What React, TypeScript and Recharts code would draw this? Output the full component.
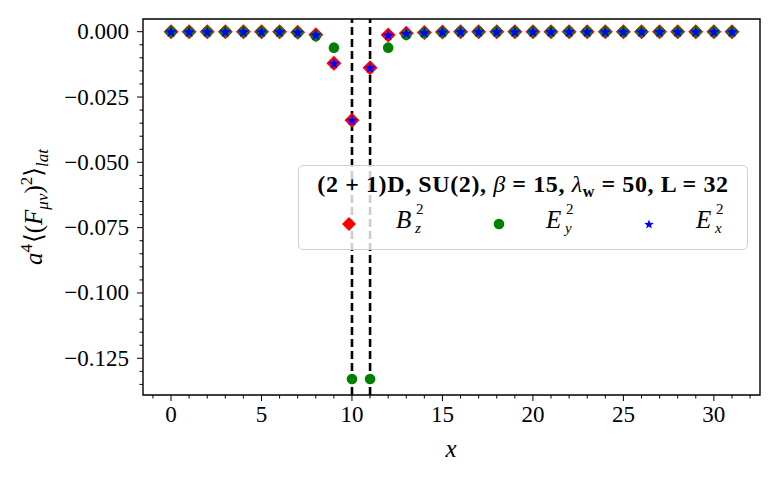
import React from 'react';
import { ScatterChart, Scatter, XAxis, YAxis, ReferenceLine, ReferenceArea } from 'recharts';

const positions = [0, 1, 2, 3, 4, 5, 6, 7, 8, 9, 10, 11, 12, 13, 14, 15, 16, 17, 18, 19, 20, 21, 22, 23, 24, 25, 26, 27, 28, 29, 30, 31];
const bz2 = [0, 0, 0, 0, 0, 0, 0, -0.0002, -0.0012, -0.0121, -0.0339, -0.0138, -0.0013, -0.0006, -0.0003, -0.0001, 0, 0, 0, 0, 0, 0, 0, 0, 0, 0, 0, 0, 0, 0, 0, 0];
const ey2 = [0, 0, 0, 0, 0, 0, 0, -0.0003, -0.0016, -0.0061, -0.1329, -0.1329, -0.0061, -0.0012, -0.0005, -0.0002, 0, 0, 0, 0, 0, 0, 0, 0, 0, 0, 0, 0, 0, 0, 0, 0];
const ex2 = [0, 0, 0, 0, 0, 0, 0, -0.0002, -0.0012, -0.0121, -0.0339, -0.0138, -0.0013, -0.0006, -0.0003, -0.0001, 0, 0, 0, 0, 0, 0, 0, 0, 0, 0, 0, 0, 0, 0, 0, 0];

const xMajorTicks = [0, 5, 10, 15, 20, 25, 30];
const xAllTicks = [-1, 0, 1, 2, 3, 4, 5, 6, 7, 8, 9, 10, 11, 12, 13, 14, 15, 16, 17, 18, 19, 20, 21, 22, 23, 24, 25, 26, 27, 28, 29, 30, 31, 32];
const yMajorTicks = [0, -0.025, -0.05, -0.075, -0.1, -0.125];
const yAllTicks = [0, -0.005, -0.01, -0.015, -0.02, -0.025, -0.03, -0.035, -0.04, -0.045, -0.05, -0.055, -0.06, -0.065, -0.07, -0.075, -0.08, -0.085, -0.09, -0.095, -0.1, -0.105, -0.11, -0.115, -0.12, -0.125, -0.13, -0.135];
const wallPositions = [10, 11];
const xDomain: [number, number] = [-1.55, 32.55];
const yDomain: [number, number] = [-0.13905, 0.00486];

const bzData = positions.map((x, i) => ({ x, y: bz2[i] }));
const eyData = positions.map((x, i) => ({ x, y: ey2[i] }));
const exData = positions.map((x, i) => ({ x, y: ex2[i] }));

const FONT = '"Liberation Serif", "DejaVu Serif", serif';
const FS = 23;

const isMajorX = (v: number) => xMajorTicks.indexOf(v) >= 0;
const isMajorY = (v: number) => yMajorTicks.some((m) => Math.abs(m - v) < 1e-9);

const XTick = (props: any) => {
  const { x, y, payload } = props;
  const v = payload.value;
  const major = isMajorX(v);
  return (
    <g>
      <line x1={x} x2={x} y1={y} y2={y + (major ? 6 : 3.5)} stroke="#000" strokeWidth={1} />
      {major && (
        <text x={x} y={y + 27} textAnchor="middle" fontFamily={FONT} fontSize={FS} fill="#000">
          {String(v)}
        </text>
      )}
    </g>
  );
};

const YTick = (props: any) => {
  const { x, y, payload } = props;
  const v = payload.value;
  const major = isMajorY(v);
  const label = (Math.abs(v) < 1e-12 ? '0.000' : (v < 0 ? '\u2212' : '') + Math.abs(v).toFixed(3));
  return (
    <g>
      <line x1={x - (major ? 6 : 3.5)} x2={x} y1={y} y2={y} stroke="#000" strokeWidth={1} />
      {major && (
        <text x={x - 14} y={y + 7.5} textAnchor="end" fontFamily={FONT} fontSize={FS} fill="#000">
          {label}
        </text>
      )}
    </g>
  );
};

const Diamond = (props: any) => {
  const { cx, cy } = props;
  const r = 7.5;
  return <path d={`M${cx},${cy - r}L${cx + r},${cy}L${cx},${cy + r}L${cx - r},${cy}Z`} fill="#ff0000" />;
};

const Dot = (props: any) => {
  const { cx, cy } = props;
  return <circle cx={cx} cy={cy} r={5.3} fill="#008000" />;
};

const starPath = (cx: number, cy: number, ro: number, ri: number) => {
  let d = '';
  for (let k = 0; k < 10; k++) {
    const r = k % 2 === 0 ? ro : ri;
    const a = -Math.PI / 2 + (k * Math.PI) / 5;
    d += (k === 0 ? 'M' : 'L') + (cx + r * Math.cos(a)).toFixed(2) + ',' + (cy + r * Math.sin(a)).toFixed(2);
  }
  return d + 'Z';
};

const Star = (props: any) => {
  const { cx, cy } = props;
  return <path d={starPath(cx, cy + 0.5, 6, 2.5)} fill="#0000ff" />;
};

const YLabel = () => (
  <text transform="translate(42,207) rotate(-90)" textAnchor="middle" fontFamily={FONT} fontSize={25} fill="#000">
    <tspan fontStyle="italic">a</tspan>
    <tspan fontSize={17} dy={-10}>4</tspan>
    <tspan dy={10} dx={1}>{'\u27E8('}</tspan>
    <tspan fontStyle="italic">F</tspan>
    <tspan fontSize={17} fontStyle="italic" dy={6}>{'\u03BC\u03BD'}</tspan>
    <tspan dy={-6}>)</tspan>
    <tspan fontSize={17} dy={-10}>2</tspan>
    <tspan dy={10}>{'\u27E9'}</tspan>
    <tspan fontSize={17} fontStyle="italic" dy={6}>lat</tspan>
  </text>
);

const XLabel = () => (
  <text x={451} y={457} textAnchor="middle" fontFamily={FONT} fontSize={25} fontStyle="italic" fill="#000">
    x
  </text>
);

const Sym = ({ base, sub }: { base: string; sub: string }) => (
  <span style={{ whiteSpace: 'nowrap', position: 'relative', display: 'inline-block', width: 40, height: 40 }}>
    <i style={{ position: 'absolute', left: 0, top: 4, fontSize: 25 }}>{base}</i>
    <span style={{ position: 'absolute', left: 20, top: 0, fontSize: 15, lineHeight: '15px' }}>2</span>
    <span style={{ position: 'absolute', left: 19, top: 19, fontSize: 15, lineHeight: '15px', fontStyle: 'italic' }}>{sub}</span>
  </span>
);

const legendEntries = [
  { base: 'B', sub: 'z', marker: 'diamond' },
  { base: 'E', sub: 'y', marker: 'circle' },
  { base: 'E', sub: 'x', marker: 'star' },
];

const LegendMarker = ({ kind }: { kind: string }) => (
  <svg width={20} height={20} style={{ position: 'absolute', left: -10, top: -10 }}>
    {kind === 'diamond' && <path d="M10,3L17,10L10,17L3,10Z" fill="#ff0000" />}
    {kind === 'circle' && <circle cx={10} cy={10} r={5.3} fill="#008000" />}
    {kind === 'star' && <path d={starPath(10, 10.5, 5, 2.1)} fill="#0000ff" />}
  </svg>
);

const Legend = () => (
  <div
    style={{
      position: 'absolute',
      left: 298,
      top: 165,
      width: 450,
      height: 85,
      boxSizing: 'border-box',
      border: '1.5px solid #d0d0d0',
      borderRadius: 5,
      background: 'rgba(255,255,255,0.8)',
      fontFamily: FONT,
      fontSize: 24,
      color: '#000',
    }}
  >
    <div style={{ position: 'absolute', left: 0, right: 0, top: 5, textAlign: 'center', whiteSpace: 'nowrap', letterSpacing: 0.6 }}>
      <b>(2 + 1)D, SU(2), </b>
      <i>{'\u03B2'}</i>
      <b> = 15, </b>
      <i>{'\u03BB'}</i>
      <b style={{ fontSize: 16, verticalAlign: -5 }}>w</b>
      <b> = 50, L = 32</b>
    </div>
    {legendEntries.map((e, i) => (
      <div key={e.base + e.sub} style={{ position: 'absolute', left: 50 + i * 150, top: 58 }}>
        <LegendMarker kind={e.marker} />
        <div style={{ position: 'absolute', left: 47, top: -22 }}>
          <Sym base={e.base} sub={e.sub} />
        </div>
      </div>
    ))}
  </div>
);

export default function App() {
  return (
    <div style={{ position: 'absolute', left: 0, top: 0, width: 780, height: 481, background: '#fff' }}>
      <ScatterChart width={780} height={481} margin={{ top: 19, right: 20, left: 0, bottom: 0 }}>
        <XAxis
          type="number"
          dataKey="x"
          domain={xDomain}
          ticks={xAllTicks}
          interval={0}
          tick={<XTick />}
          tickLine={false}
          axisLine={false}
          tickSize={0}
          tickMargin={0}
          height={86}
          allowDataOverflow
          label={<XLabel />}
        />
        <YAxis
          type="number"
          dataKey="y"
          domain={yDomain}
          ticks={yAllTicks}
          interval={0}
          tick={<YTick />}
          tickLine={false}
          axisLine={false}
          tickSize={0}
          tickMargin={0}
          width={143}
          allowDataOverflow
          label={<YLabel />}
        />
        <Scatter name="B_z^2" data={bzData} shape={<Diamond />} isAnimationActive={false} />
        <Scatter name="E_y^2" data={eyData} shape={<Dot />} isAnimationActive={false} />
        <Scatter name="E_x^2" data={exData} shape={<Star />} isAnimationActive={false} />
        {wallPositions.map((w) => (
          <ReferenceLine key={w} x={w} stroke="#000" strokeWidth={2.6} strokeDasharray="8 4" />
        ))}
        <ReferenceArea x1={xDomain[0]} x2={xDomain[1]} y1={yDomain[0]} y2={yDomain[1]} fill="none" stroke="#000" strokeWidth={1.4} />
      </ScatterChart>
      <Legend />
    </div>
  );
}
